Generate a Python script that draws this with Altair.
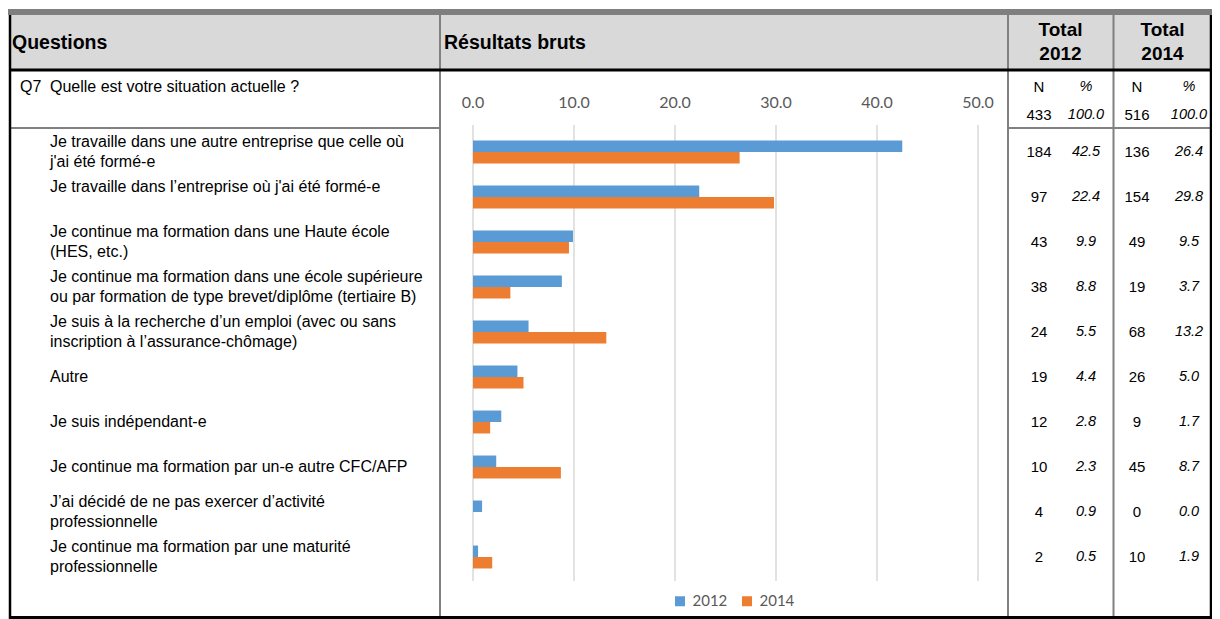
import altair as alt
import pandas as pd

# ---------------- data ----------------
categories = [
    "Je travaille dans une autre entreprise que celle où\nj'ai été formé-e",
    "Je travaille dans l’entreprise où j'ai été formé-e\n ",
    "Je continue ma formation dans une Haute école\n(HES, etc.)",
    "Je continue ma formation dans une école supérieure\nou par formation de type brevet/diplôme (tertiaire B)",
    "Je suis à la recherche d’un emploi (avec ou sans\ninscription à l’assurance-chômage)",
    "Autre",
    "Je suis indépendant-e",
    "Je continue ma formation par un-e autre CFC/AFP",
    "J’ai décidé de ne pas exercer d’activité\nprofessionnelle",
    "Je continue ma formation par une maturité\nprofessionnelle",
]
years = ["2012", "2014"]
n_2012 = [184, 97, 43, 38, 24, 19, 12, 10, 4, 2]
pct_2012 = [42.5, 22.4, 9.9, 8.8, 5.5, 4.4, 2.8, 2.3, 0.9, 0.5]
n_2014 = [136, 154, 49, 19, 68, 26, 9, 45, 0, 10]
pct_2014 = [26.4, 29.8, 9.5, 3.7, 13.2, 5.0, 1.7, 8.7, 0.0, 1.9]
total_n = [433, 516]
total_pct = [100.0, 100.0]
x_ticks = [0, 10, 20, 30, 40, 50]
question_code = "Q7"
question_text = "Quelle est votre situation actuelle ?"
header_questions = "Questions"
header_results = "Résultats bruts"

# ---------------- tables ----------------
keys = [f"r{i}" for i in range(len(categories))]
split = [c.split("\n") + [""] for c in categories]
rows = pd.DataFrame({
    "cat": keys,
    "line1": [s[0] for s in split],
    "line2": [s[1] for s in split],
    "n2012": n_2012, "p2012": pct_2012, "n2014": n_2014, "p2014": pct_2014,
})
bars = pd.DataFrame(
    [{"cat": k, "year": years[0], "pct": p} for k, p in zip(keys, pct_2012)]
    + [{"cat": k, "year": years[1], "pct": p} for k, p in zip(keys, pct_2014)]
)
ticks = pd.DataFrame({"v": x_ticks})
one = pd.DataFrame({"k": [0]})

W, H = 1204, 611
FONT = "Liberation Sans"
BLUE, ORANGE = "#5b9bd5", "#ed7d31"
GRAY_LINE = "#808080"

# column geometry (plot pixels)
X_DIV1, X_DIV2, X_DIV3, X_RIGHT = 432, 1000, 1105.5, 1203
X_N12, X_P12, X_N14, X_P14 = 1031, 1078, 1129, 1181
X_T12, X_T14 = 1052.5, 1154.5

xscale = alt.Scale(domain=[0, 50], range=[465, 970], nice=False, zero=True)
yscale = alt.Scale(domain=keys, range=[121.5, 571.5], paddingInner=0.49, paddingOuter=0.245)
Ycat = alt.Y("cat:N", scale=yscale, axis=None, sort=keys)


def box(x1, x2, y1, y2, color):
    return alt.Chart(one).mark_rect(color=color).encode(
        x=alt.value(x1), x2=alt.value(x2), y=alt.value(y1), y2=alt.value(y2))


def hline(x1, x2, y, color, w):
    return alt.Chart(one).mark_rule(color=color, strokeWidth=w).encode(
        x=alt.value(x1), x2=alt.value(x2), y=alt.value(y))


def vline(x, y1, y2, color, w):
    return alt.Chart(one).mark_rule(color=color, strokeWidth=w).encode(
        x=alt.value(x), y=alt.value(y1), y2=alt.value(y2))


def label(txt, x, y, size=15, bold=False, italic=False, align="left"):
    return alt.Chart(one).mark_text(
        text=txt, align=align, baseline="middle", font=FONT, fontSize=size,
        fontWeight="bold" if bold else "normal",
        fontStyle="italic" if italic else "normal", color="black",
    ).encode(x=alt.value(x), y=alt.value(y))


layers = []
# header background and top grey band
layers.append(box(0, W, 1, 7, "#7f7f7f"))
layers.append(box(2, X_RIGHT, 7, 62, "#d9d9d9"))

# gridlines (through x scale)
layers.append(
    alt.Chart(ticks).mark_rule(color="#d9d9d9", strokeWidth=1.5).encode(
        x=alt.X("v:Q", scale=xscale, axis=None), y=alt.value(117), y2=alt.value(573))
)
# tick labels
layers.append(
    alt.Chart(ticks).mark_text(font="Lato", fontSize=16, color="#595959", baseline="middle").encode(
        x=alt.X("v:Q", scale=xscale, axis=None), y=alt.value(94.5),
        text=alt.Text("v:Q", format=".1f"))
)
# bars
layers.append(
    alt.Chart(bars).mark_bar().encode(
        x=alt.X("pct:Q", scale=xscale, axis=None),
        y=Ycat,
        yOffset=alt.YOffset("year:N", sort=years),
        color=alt.Color("year:N", scale=alt.Scale(domain=years, range=[BLUE, ORANGE]),
                        legend=alt.Legend(orient="none", legendX=664.5, legendY=585.5,
                                          direction="horizontal", title=None,
                                          symbolType="square", symbolSize=100,
                                          symbolStrokeWidth=0, labelFont="Lato",
                                          labelFontSize=15, labelColor="#595959",
                                          columnPadding=12, labelOffset=5, padding=0)),
    )
)
# question labels (one- and two-line cells, centred on their row)
QFS, QLH = 16, 19.5
qtext = dict(align="left", baseline="middle", font=FONT, fontSize=QFS, color="black")
layers.append(
    alt.Chart(rows).transform_filter("datum.line2 == ''").mark_text(**qtext).encode(
        x=alt.value(42), y=Ycat, text="line1:N")
)
layers.append(
    alt.Chart(rows).transform_filter("datum.line2 != ''").mark_text(dy=-QLH / 2, **qtext).encode(
        x=alt.value(42), y=Ycat, text="line1:N")
)
layers.append(
    alt.Chart(rows).transform_filter("datum.line2 != ''").mark_text(dy=QLH / 2, **qtext).encode(
        x=alt.value(42), y=Ycat, text="line2:N")
)
# numbers
cols = [("n2012", X_N12, False, None), ("p2012", X_P12, True, ".1f"),
        ("n2014", X_N14, False, None), ("p2014", X_P14, True, ".1f")]
for field, cx, it, fmt in cols:
    txt = alt.Text(f"{field}:Q", format=fmt) if fmt else alt.Text(f"{field}:Q")
    layers.append(
        alt.Chart(rows).mark_text(align="center", baseline="middle", font=FONT,
                                  fontSize=14.5 if it else 15,
                                  fontStyle="italic" if it else "normal", color="black").encode(
            x=alt.value(cx), y=Ycat, text=txt)
    )

# header texts
layers.append(label(header_questions, 4, 35, size=19.5, bold=True))
layers.append(label(header_results, 436, 35, size=19.5, bold=True))
for cx, yr in ((X_T12, years[0]), (X_T14, years[1])):
    layers.append(label("Total", cx, 22, size=19, bold=True, align="center"))
    layers.append(label(yr, cx, 46, size=19, bold=True, align="center"))
# question row
layers.append(label(question_code, 12, 79, size=QFS))
layers.append(label(question_text, 42, 79, size=QFS))
for i, (cn, cp) in enumerate([(X_N12, X_P12), (X_N14, X_P14)]):
    layers.append(label("N", cn, 79, align="center"))
    layers.append(label("%", cp, 79, size=14.5, italic=True, align="center"))
    layers.append(label(str(total_n[i]), cn, 106.5, align="center"))
    layers.append(label(f"{total_pct[i]:.1f}", cp, 106.5, size=14.5, italic=True, align="center"))

# table lines
layers.append(hline(2, X_DIV1, 120, GRAY_LINE, 2))
layers.append(hline(X_DIV2, X_RIGHT, 120, GRAY_LINE, 2))
for vx in (X_DIV1, X_DIV2, X_DIV3):
    layers.append(vline(vx, 7, 611, GRAY_LINE, 2))
layers.append(vline(2, 7, 611, "black", 2.5))
layers.append(vline(X_RIGHT, 7, 611, "black", 2.5))
layers.append(hline(2, X_RIGHT, 62, "black", 3))
layers.append(hline(2, X_RIGHT, 609.5, "black", 3))

chart = alt.layer(*layers).properties(
    width=W, height=H, padding=0, autosize=alt.AutoSizeParams(type="none")
).configure_view(strokeWidth=0)

chart.save("out.html", embed_options={"renderer": "svg", "actions": False})
